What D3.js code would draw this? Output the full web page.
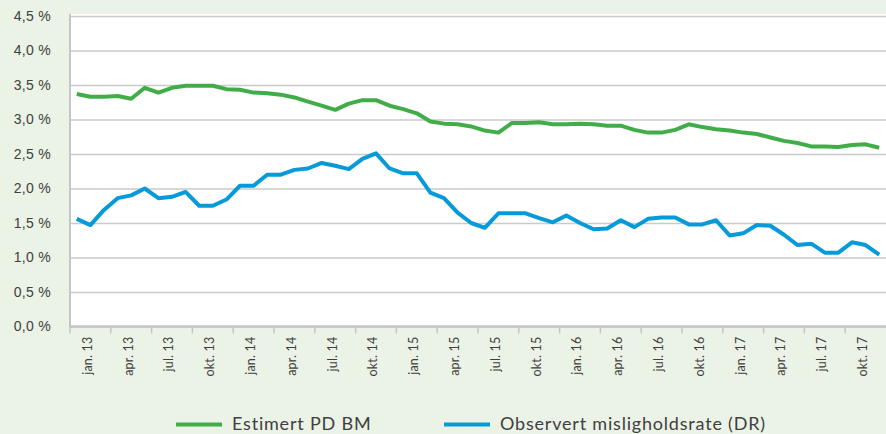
<!DOCTYPE html>
<html>
<head>
<meta charset="utf-8">
<script src="https://cdn.jsdelivr.net/npm/d3@7"></script>
<style>
  body { margin: 0; background: #ebf2e6; }
  svg { display: block; font-family: Lato, "Open Sans", sans-serif; }
</style>
</head>
<body>
<svg class="line-chart"></svg>
<script>
SVG_WIDTH = 886;
SVG_HEIGHT = 434;

PLOT = {left: 70, right: 886, top: 16, bottom: 326.5};

MONTH_NAMES = ["jan.", "feb.", "mar.", "apr.", "mai.", "jun.", "jul.", "aug.", "sep.", "okt.", "nov.", "des."];
Y_TICKS = [0, 0.5, 1.0, 1.5, 2.0, 2.5, 3.0, 3.5, 4.0, 4.5];

// estimated PD, des. 12 - nov. 17 (percent)
PD_VALUES = [
    3.37, 3.33, 3.33, 3.34, 3.30, 3.46, 3.39, 3.46, 3.49, 3.49,
    3.49, 3.44, 3.43, 3.39, 3.38, 3.36, 3.32, 3.26, 3.20, 3.14,
    3.23, 3.28, 3.28, 3.20, 3.15, 3.09, 2.97, 2.94, 2.93, 2.90,
    2.84, 2.81, 2.95, 2.95, 2.96, 2.93, 2.93, 2.94, 2.93, 2.91,
    2.91, 2.85, 2.81, 2.81, 2.85, 2.93, 2.89, 2.86, 2.84, 2.81,
    2.79, 2.74, 2.69, 2.66, 2.61, 2.61, 2.60, 2.63, 2.64, 2.59
];

// observed default rate, des. 12 - nov. 17 (percent)
DR_VALUES = [
    1.56, 1.47, 1.69, 1.86, 1.90, 2.00, 1.86, 1.88, 1.95, 1.75,
    1.75, 1.84, 2.04, 2.04, 2.20, 2.20, 2.27, 2.29, 2.37, 2.33,
    2.28, 2.43, 2.51, 2.29, 2.22, 2.22, 1.94, 1.86, 1.65, 1.50,
    1.43, 1.64, 1.64, 1.64, 1.57, 1.51, 1.61, 1.50, 1.41, 1.42,
    1.54, 1.44, 1.56, 1.58, 1.58, 1.48, 1.48, 1.54, 1.32, 1.35,
    1.47, 1.46, 1.33, 1.18, 1.20, 1.07, 1.07, 1.22, 1.18, 1.04
];

SERIES_NAMES = ["Estimert PD BM", "Observert misligholdsrate (DR)"];
SERIES_COLORS = ["#41ad49", "#069ad9"];

function buildMonths() {
    months = ["des. 12"];
    for (y = 13; y <= 17; y++) {
        for (m = 0; m < 12; m++) {
            months.push(MONTH_NAMES[m] + " " + y);
        }
    }
    return months.slice(0, PD_VALUES.length);
}

function makeChart() {
    months = buildMonths();
    svg = d3.select(".line-chart")
        .attr("width", SVG_WIDTH)
        .attr("height", SVG_HEIGHT);

    x = d3.scalePoint()
        .domain(months)
        .range([PLOT.left, PLOT.right])
        .padding(0.5);
    y = d3.scaleLinear()
        .domain([0, 4.5])
        .range([PLOT.bottom, PLOT.top]);

    // white plot area
    svg.append("rect")
        .attr("x", PLOT.left)
        .attr("y", PLOT.top - 2)
        .attr("width", PLOT.right - PLOT.left)
        .attr("height", PLOT.bottom - PLOT.top + 2)
        .attr("fill", "#fff");

    addYAxis(svg, y);
    addXAxis(svg, x, months);
    addLine(svg, x, y, months, PD_VALUES, SERIES_COLORS[0]);
    addLine(svg, x, y, months, DR_VALUES, SERIES_COLORS[1]);
    addLegend(svg);
}

function addYAxis(svg, y) {
    fmt = function(d) { return d3.format(".1f")(d).replace(".", ",") + " %"; };
    g = svg.append("g")
        .attr("transform", "translate(" + PLOT.left + ",0)")
        .call(
            d3.axisLeft(y)
                .tickValues(Y_TICKS)
                .tickSize(-(PLOT.right - PLOT.left))
                .tickPadding(19)
                .tickFormat(fmt)
        );
    g.select(".domain").remove();
    g.selectAll(".tick line")
        .attr("stroke", "#cacaca")
        .attr("stroke-width", 1.6);
    g.selectAll(".tick text")
        .attr("fill", "#404040")
        .style("font-size", "14px")
        .style("letter-spacing", "0.3px");

    svg.append("line")
        .attr("x1", PLOT.left).attr("x2", PLOT.left)
        .attr("y1", PLOT.top - 2).attr("y2", PLOT.bottom + 1)
        .attr("stroke", "#c6c6c6")
        .attr("stroke-width", 2);
}

function addXAxis(svg, x, months) {
    step = x.step();
    svg.append("line")
        .attr("x1", PLOT.left).attr("x2", PLOT.right)
        .attr("y1", PLOT.bottom).attr("y2", PLOT.bottom)
        .attr("stroke", "#c6c6c6")
        .attr("stroke-width", 2.5);

    // tick marks between every third category
    tickMonths = months.filter(function(d, i) { return i % 3 == 0; });
    svg.selectAll(".x-tick")
        .data(tickMonths)
        .enter().append("line")
        .attr("class", "x-tick")
        .attr("x1", function(d) { return x(d) - step / 2; })
        .attr("x2", function(d) { return x(d) - step / 2; })
        .attr("y1", PLOT.bottom)
        .attr("y2", PLOT.bottom + 7)
        .attr("stroke", "#c6c6c6")
        .attr("stroke-width", 1.5);

    labelMonths = months.filter(function(d, i) { return i % 3 == 1; });
    svg.selectAll(".x-label")
        .data(labelMonths)
        .enter().append("text")
        .attr("class", "x-label")
        .attr("transform", function(d) {
            return "translate(" + (x(d) - 3) + "," + (PLOT.bottom + 10) + ") rotate(-90)";
        })
        .attr("dy", "0.35em")
        .attr("text-anchor", "end")
        .attr("fill", "#404040")
        .style("font-size", "12.5px")
        .style("letter-spacing", "0.2px")
        .text(function(d) { return d; });
}

function addLine(svg, x, y, months, values, color) {
    line = d3.line()
        .x(function(d, i) { return x(months[i]); })
        .y(function(d) { return y(d); });
    svg.append("path")
        .datum(values)
        .attr("fill", "none")
        .attr("stroke", color)
        .attr("stroke-width", 4)
        .attr("stroke-linejoin", "round")
        .attr("d", line);
}

function addLegend(svg) {
    items = [
        {name: SERIES_NAMES[0], color: SERIES_COLORS[0], x: 176},
        {name: SERIES_NAMES[1], color: SERIES_COLORS[1], x: 444}
    ];
    g = svg.append("g").attr("transform", "translate(0,424.5)");
    entry = g.selectAll(".legend")
        .data(items)
        .enter().append("g")
        .attr("transform", function(d) { return "translate(" + d.x + ",0)"; });
    entry.append("line")
        .attr("x1", 0).attr("x2", 46)
        .attr("stroke", function(d) { return d.color; })
        .attr("stroke-width", 4);
    entry.append("text")
        .attr("x", 56)
        .attr("y", 5)
        .attr("fill", "#404040")
        .style("font-size", "18px")
        .style("letter-spacing", "0.8px")
        .text(function(d) { return d.name; });
}

makeChart();
</script>
</body>
</html>
